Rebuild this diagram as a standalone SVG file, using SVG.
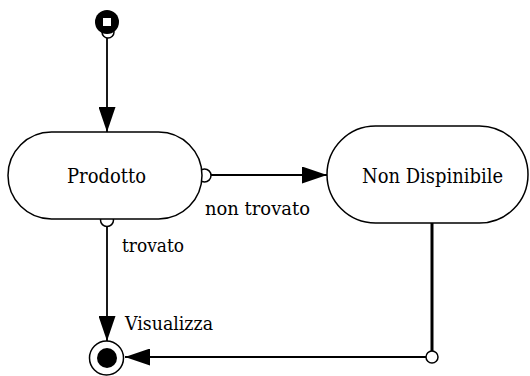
<svg xmlns="http://www.w3.org/2000/svg" width="530" height="376" viewBox="0 0 530 376">
<defs>
<style>
.state{fill:#fff;stroke:#000;stroke-width:1.5}
.name{font-family:"DejaVu Serif","Liberation Serif",serif;font-size:20px;fill:#000;text-anchor:middle}
.lbl{font-family:"DejaVu Serif","Liberation Serif",serif;font-size:19px;fill:#000}
.ln{fill:none;stroke:#000;stroke-width:1.8}
.port{fill:#fff;stroke:#000;stroke-width:1.5}
</style>
<marker id="ah" viewBox="0 0 25 17" refX="25" refY="8.5" markerWidth="25" markerHeight="17" markerUnits="userSpaceOnUse" orient="auto">
<path d="M0,0 L25,8.5 L0,17 Z" fill="#000"/>
</marker>
</defs>
<rect width="530" height="376" fill="#fff"/>
<g id="connectors">
<line class="ln" x1="107" y1="38" x2="107" y2="132" marker-end="url(#ah)"/>
<line class="ln" x1="211" y1="175" x2="327" y2="175" marker-end="url(#ah)"/>
<line class="ln" x1="107" y1="226" x2="107" y2="341" marker-end="url(#ah)"/>
<line class="ln" x1="432" y1="223" x2="432" y2="351" style="stroke-width:3"/>
<line class="ln" x1="426" y1="357" x2="125" y2="357" marker-end="url(#ah)"/>
<circle class="port" cx="108" cy="32" r="6"/>
<circle class="port" cx="204.5" cy="175.5" r="6.5"/>
<circle class="port" cx="107" cy="220" r="6.5"/>
<circle class="port" cx="432" cy="357" r="6"/>
<text class="lbl" x="205" y="215" textLength="105" lengthAdjust="spacingAndGlyphs">non trovato</text>
<text class="lbl" x="122" y="252" textLength="62" lengthAdjust="spacingAndGlyphs">trovato</text>
<text class="lbl" x="125" y="330" textLength="88" lengthAdjust="spacingAndGlyphs">Visualizza</text>
</g>
<g id="start">
<circle cx="107" cy="22" r="12" fill="#000"/>
<rect x="103" y="18" width="8" height="8" fill="#fff"/>
</g>
<g id="prodotto">
<rect class="state" x="8" y="132" width="194" height="87" rx="43.5"/>
<text class="name" x="106.5" y="183" textLength="79" lengthAdjust="spacingAndGlyphs">Prodotto</text>
</g>
<g id="non-dispinibile">
<rect class="state" x="327" y="126" width="201" height="97" rx="48.5"/>
<text class="name" x="432.5" y="183" textLength="141" lengthAdjust="spacingAndGlyphs">Non Dispinibile</text>
</g>
<g id="end">
<circle cx="106.5" cy="358" r="17" fill="#fff" stroke="#000" stroke-width="1.5"/>
<circle cx="107" cy="358" r="10" fill="#000"/>
</g>
</svg>
